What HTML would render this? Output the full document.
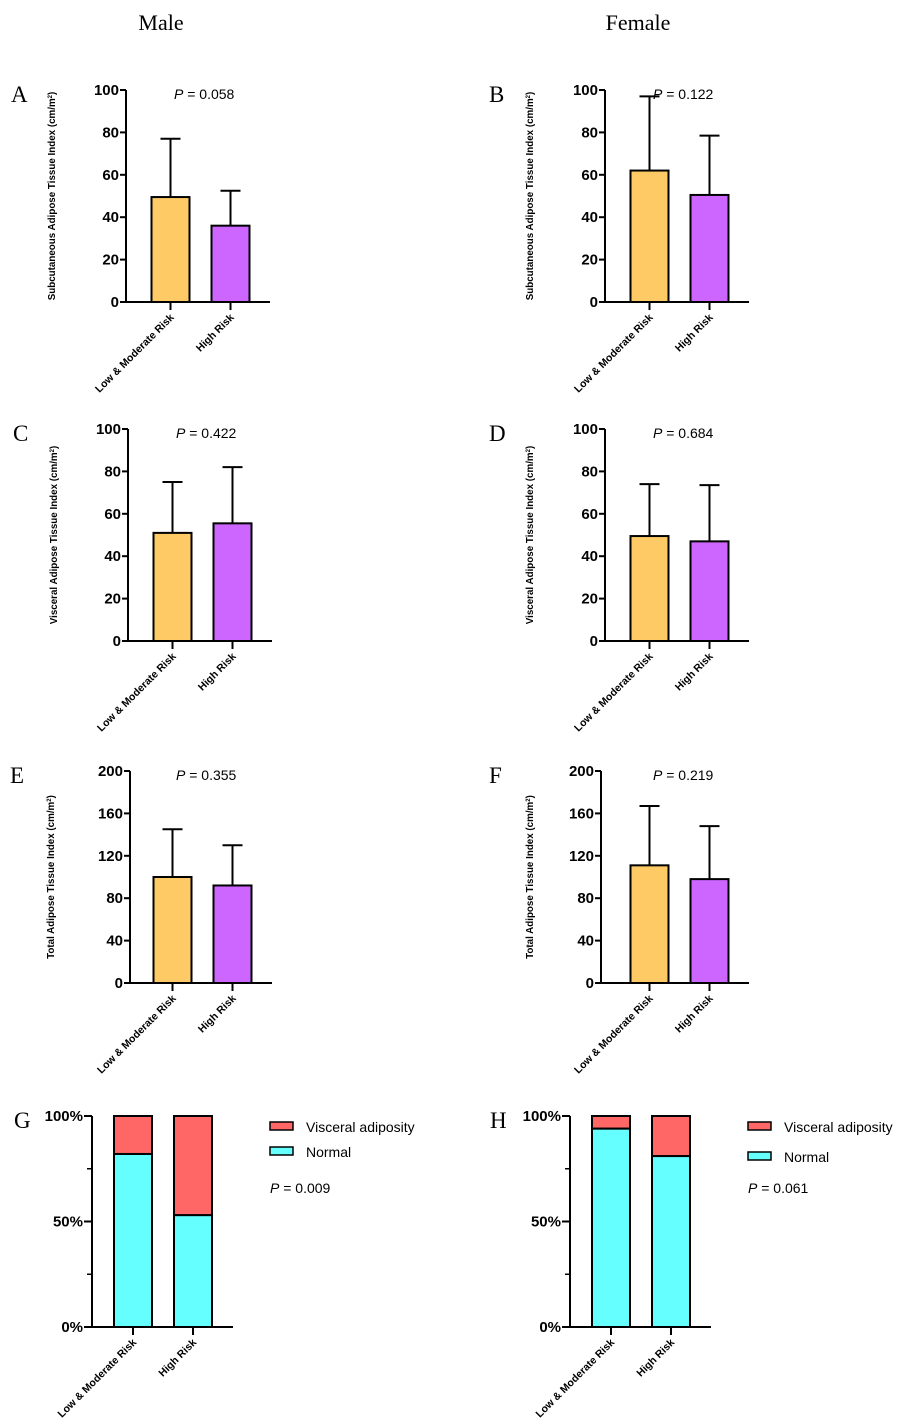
<!DOCTYPE html>
<html><head><meta charset="utf-8">
<style>
body{margin:0;background:#fff;}
svg{display:block;}
text{font-family:"Liberation Sans",Arial,sans-serif;}
.serif{font-family:"Liberation Serif","Times New Roman",serif;}
</style></head>
<body>
<svg id="fig" width="899" height="1423" viewBox="0 0 899 1423" xmlns="http://www.w3.org/2000/svg">
<text class="serif" x="161" y="30" font-size="22" text-anchor="middle">Male</text>
<text class="serif" x="638" y="30" font-size="22" text-anchor="middle">Female</text>
</svg>
<script>
const categories = ["Low & Moderate Risk", "High Risk"];
const meanA = [49.5, 36];   const errA = [77, 52.5];
const meanB = [62, 50.5];   const errB = [97, 78.5];
const meanC = [51, 55.5];   const errC = [75, 82];
const meanD = [49.5, 47];   const errD = [74, 73.5];
const meanE = [100, 92];    const errE = [145, 130];
const meanF = [111, 98];    const errF = [167, 148];
const normalG = [82, 53];   const normalH = [94, 81];
const ticks100 = [0, 20, 40, 60, 80, 100];
const ticks200 = [0, 40, 80, 120, 160, 200];
const pctTicks = [0, 50, 100];
const pA="0.058", pB="0.122", pC="0.422", pD="0.684", pE="0.355", pF="0.219", pG="0.009", pH="0.061";

const NS = "http://www.w3.org/2000/svg";
const svg = document.getElementById("fig");
function mk(tag, attrs, parent, txt){
  const e = document.createElementNS(NS, tag);
  for (const k in attrs) e.setAttribute(k, attrs[k]);
  if (txt !== undefined) e.textContent = txt;
  (parent || svg).appendChild(e);
  return e;
}

function barPanel(o){
  const g = mk("g", {});
  
  
  const ax = o.ax, top = o.top, bot = o.top + 212, max = o.ticks[o.ticks.length-1];
  const y = v => bot - (v / max) * (bot - top);
  const cx = i => o.bx + 19.5 + i * 60;
  const l = mk("text", {x: o.lx, y: top + 12, "font-size": 23, class: "serif"}, g, o.letter);
  
  
  categories.forEach((c, i) => {
    const v = o.mean[i], e = o.err[i];
    const ln = mk("line", {x1: cx(i), x2: cx(i), y1: y(v), y2: y(e), stroke: "#000", "stroke-width": 2}, g);
    
    
    mk("line", {x1: cx(i) - 10, x2: cx(i) + 10, y1: y(e), y2: y(e), stroke: "#000", "stroke-width": 2}, g);
    const r = mk("rect", {x: cx(i) - 19, y: y(v), width: 38, height: bot - y(v), fill: i ? "#cc66ff" : "#fdca66", stroke: "#000", "stroke-width": 2}, g);
    
    
    mk("line", {x1: cx(i), x2: cx(i), y1: bot, y2: bot + 8, stroke: "#000", "stroke-width": 2}, g);
    const t = mk("text", {transform: `translate(${cx(i) + 4},${bot + 16}) rotate(-45)`, "text-anchor": "end", "font-size": 10.5, "font-weight": "bold"}, g, c);
    
    
  });
  mk("line", {x1: ax, x2: ax, y1: top, y2: bot, stroke: "#000", "stroke-width": 2}, g);
  mk("line", {x1: ax - 6, x2: o.bx + 119, y1: bot, y2: bot, stroke: "#000", "stroke-width": 2}, g);
  o.ticks.forEach(tv => {
    mk("line", {x1: ax - 6, x2: ax, y1: y(tv), y2: y(tv), stroke: "#000", "stroke-width": 2}, g);
    const t = mk("text", {x: ax - 7, y: y(tv) + 5, "text-anchor": "end", "font-size": 15, "font-weight": "bold"}, g, tv);
    
    
  });
  const yt = mk("text", {transform: `translate(${o.lx + 44},${top + 106}) rotate(-90)`, "text-anchor": "middle", "font-size": 9.8, "font-weight": "bold"}, g);
  
  
  yt.textContent = o.title + " (cm/m";
  mk("tspan", {"baseline-shift": "super", "font-size": 6}, yt, "2");
  mk("tspan", {}, yt, ")");
  const p = mk("text", {x: o.bx + 23, y: top + 9, "font-size": 14}, g);
  
  
  mk("tspan", {"font-style": "italic"}, p, "P");
  mk("tspan", {}, p, " = " + o.p);
}

function stackPanel(o){
  const g = mk("g", {});
  
  
  const ax = o.ax, top = 1116, bot = 1327;
  const y = v => bot - (v / 100) * (bot - top);
  const cx = i => o.bx + 19 + i * 60;
  const l = mk("text", {x: o.lx, y: top + 12, "font-size": 23, class: "serif"}, g, o.letter);
  
  
  categories.forEach((c, i) => {
    const n = o.normal[i];
    const r1 = mk("rect", {x: cx(i) - 19, y: y(100), width: 38, height: y(n) - y(100), fill: "#ff6666", stroke: "#000", "stroke-width": 2}, g);
    
    
    const r2 = mk("rect", {x: cx(i) - 19, y: y(n), width: 38, height: bot - y(n), fill: "#66ffff", stroke: "#000", "stroke-width": 2}, g);
    
    
    mk("line", {x1: cx(i), x2: cx(i), y1: bot, y2: bot + 8, stroke: "#000", "stroke-width": 2}, g);
    const t = mk("text", {transform: `translate(${cx(i) + 4},${bot + 16}) rotate(-45)`, "text-anchor": "end", "font-size": 10.5, "font-weight": "bold"}, g, c);
    
    
  });
  mk("line", {x1: ax, x2: ax, y1: top, y2: bot, stroke: "#000", "stroke-width": 2}, g);
  mk("line", {x1: ax - 8, x2: o.bx + 119, y1: bot, y2: bot, stroke: "#000", "stroke-width": 2}, g);
  [25, 75].forEach(tv => mk("line", {x1: ax - 5, x2: ax, y1: y(tv), y2: y(tv), stroke: "#000", "stroke-width": 1.5}, g));
  pctTicks.forEach(tv => {
    mk("line", {x1: ax - 8, x2: ax, y1: y(tv), y2: y(tv), stroke: "#000", "stroke-width": 2}, g);
    const t = mk("text", {x: ax - 9, y: y(tv) + 5, "text-anchor": "end", "font-size": 15, "font-weight": "bold"}, g, tv + "%");
    
    
  });
  const lx = o.bx + 156;
  [["Visceral adiposity", "#ff6666", 1127], ["Normal", "#66ffff", o.letter === "H" ? 1157 : 1152]].forEach(([nm, col, ly]) => {
    const lg = mk("g", {}, g);
    
    
    mk("rect", {x: lx, y: ly - 5, width: 23, height: 8, fill: col, stroke: "#000", "stroke-width": 1.5}, lg);
    mk("text", {x: lx + 36, y: ly + 5, "font-size": 14}, lg, nm);
  });
  const p = mk("text", {x: lx, y: 1193, "font-size": 14}, g);
  
  
  mk("tspan", {"font-style": "italic"}, p, "P");
  mk("tspan", {}, p, " = " + o.p);
}

barPanel({letter:"A", lx:11, ax:126, bx:151, top:90, ticks:ticks100, mean:meanA, err:errA, p:pA, title:"Subcutaneous Adipose Tissue Index"});
barPanel({letter:"B", lx:489, ax:605, bx:630, top:90, ticks:ticks100, mean:meanB, err:errB, p:pB, title:"Subcutaneous Adipose Tissue Index"});
barPanel({letter:"C", lx:13, ax:128, bx:153, top:429, ticks:ticks100, mean:meanC, err:errC, p:pC, title:"Visceral Adipose Tissue Index"});
barPanel({letter:"D", lx:489, ax:605, bx:630, top:429, ticks:ticks100, mean:meanD, err:errD, p:pD, title:"Visceral Adipose Tissue Index"});
barPanel({letter:"E", lx:10, ax:130, bx:153, top:771, ticks:ticks200, mean:meanE, err:errE, p:pE, title:"Total Adipose Tissue Index"});
barPanel({letter:"F", lx:489, ax:601, bx:630, top:771, ticks:ticks200, mean:meanF, err:errF, p:pF, title:"Total Adipose Tissue Index"});
stackPanel({letter:"G", lx:14, ax:92, bx:114, normal:normalG, p:pG});
stackPanel({letter:"H", lx:490, ax:570, bx:592, normal:normalH, p:pH});
</script>
</body></html>
